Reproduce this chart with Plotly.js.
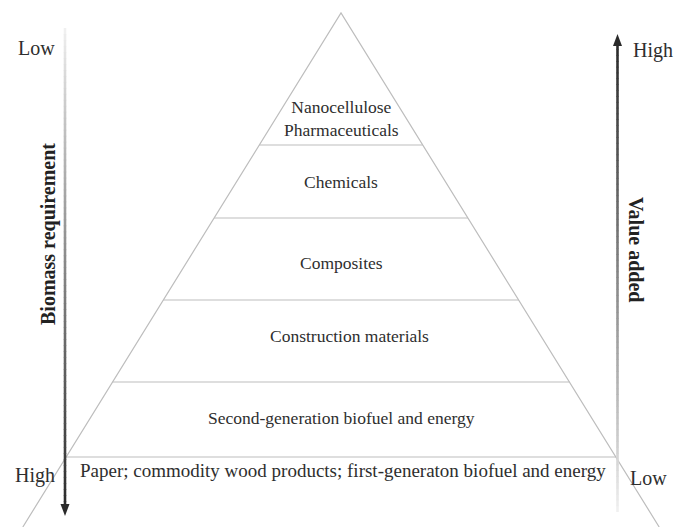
<!DOCTYPE html>
<html>
<head>
<meta charset="utf-8">
<script src="https://cdn.plot.ly/plotly-3.0.1.min.js"></script>
<style>html,body{margin:0;padding:0;background:#fff;}#chart{width:675px;height:527px;}</style>
</head>
<body>
<div id="chart"></div>
<script>
// ---- Data ----
const layerLabels = ['Nanocellulose<br>Pharmaceuticals', 'Chemicals', 'Composites', 'Construction materials', 'Second-generation biofuel and energy'];
const baseLabel = 'Paper; commodity wood products; first-generaton biofuel and energy';
// layer boundaries (diagram depth units from top): apex, then bottom of each layer
const layerLevels = [13, 145, 218, 300, 382, 457];
const leftAxisTitle = 'Biomass requirement';
const rightAxisTitle = 'Value added';
const leftTicks = ['Low', 'High'];
const rightTicks = ['High', 'Low'];

// ---- Geometry helpers ----
const W = 675, H = 527;
const cx = 341, slope = 0.619;
const apex = layerLevels[0];
function halfWidth(y) { return slope * (y - apex); }

const traces = [];
const lineColor = '#bdbdbd';
// triangle sides extending to bottom edge
traces.push({
  x: [cx - halfWidth(H), cx, cx + halfWidth(H)],
  y: [H, apex, H],
  mode: 'lines', line: {color: lineColor, width: 1.2}, hoverinfo: 'skip', showlegend: false
});
// horizontal layer boundaries
layerLevels.slice(1).forEach(y => {
  traces.push({
    x: [cx - halfWidth(y), cx + halfWidth(y)], y: [y, y],
    mode: 'lines', line: {color: lineColor, width: 1.2}, hoverinfo: 'skip', showlegend: false
  });
});

// gradient arrows as shapes
const shapes = [];
function grad(x, yLight, yDark, n) {
  for (let i = 0; i < n; i++) {
    const t0 = i / n, t1 = (i + 1) / n;
    const t = (t0 + t1) / 2;
    const g = Math.round(242 - 200 * Math.pow(t, 0.9));
    shapes.push({
      type: 'line', xref: 'x', yref: 'y',
      x0: x, x1: x,
      y0: yLight + (yDark - yLight) * t0, y1: yLight + (yDark - yLight) * t1 + (yDark > yLight ? 0.6 : -0.6),
      line: {color: `rgb(${g},${g},${g})`, width: 2.6}
    });
  }
}
const lx = 65, rx = 617.5;
grad(lx, 28, 507, 80);
grad(rx, 512, 44, 80);
// arrow heads
shapes.push({type: 'path', xref: 'x', yref: 'y', path: `M ${lx-4.5} 504 L ${lx+4.5} 504 L ${lx} 516 Z`, fillcolor: '#2a2a2a', line: {width: 0}});
shapes.push({type: 'path', xref: 'x', yref: 'y', path: `M ${rx-4.5} 46 L ${rx+4.5} 46 L ${rx} 34 Z`, fillcolor: '#2a2a2a', line: {width: 0}});

// annotations
const fam = 'Liberation Serif';
function f(size, color) { return {family: fam, size: size, color: color || '#2e2e2e'}; }
const ann = [];
const layerTextY = [118, 182, 263, 336, 418];
const layerTextX = [341, 341, 341, 349, 341];
layerLabels.forEach((t, i) => {
  ann.push({x: layerTextX[i], y: layerTextY[i], xref: 'x', yref: 'y', text: t, showarrow: false,
    font: f(17.5), xanchor: 'center', yanchor: 'middle'});
});
ann.push({x: 343, y: 470, xref: 'x', yref: 'y', text: baseLabel, showarrow: false,
  font: f(19), xanchor: 'center', yanchor: 'middle'});
ann.push({x: 36, y: 48, xref: 'x', yref: 'y', text: leftTicks[0], showarrow: false, font: f(20)});
ann.push({x: 35, y: 475, xref: 'x', yref: 'y', text: leftTicks[1], showarrow: false, font: f(20)});
ann.push({x: 653, y: 50, xref: 'x', yref: 'y', text: rightTicks[0], showarrow: false, font: f(20)});
ann.push({x: 648, y: 478, xref: 'x', yref: 'y', text: rightTicks[1], showarrow: false, font: f(20)});
ann.push({x: 48, y: 234, xref: 'x', yref: 'y', text: '<b>' + leftAxisTitle + '</b>', showarrow: false, textangle: -90,
  font: f(20, '#222')});
ann.push({x: 636, y: 249, xref: 'x', yref: 'y', text: '<b>' + rightAxisTitle + '</b>', showarrow: false, textangle: 90,
  font: f(20, '#222')});

const layout = {
  width: W, height: H,
  margin: {l: 0, r: 0, t: 0, b: 0},
  paper_bgcolor: '#fff', plot_bgcolor: '#fff',
  xaxis: {range: [0, W], visible: false, fixedrange: true},
  yaxis: {range: [H, 0], visible: false, fixedrange: true},
  shapes: shapes, annotations: ann, showlegend: false
};
Plotly.newPlot('chart', traces, layout, {staticPlot: true, displayModeBar: false});
</script>
</body>
</html>
